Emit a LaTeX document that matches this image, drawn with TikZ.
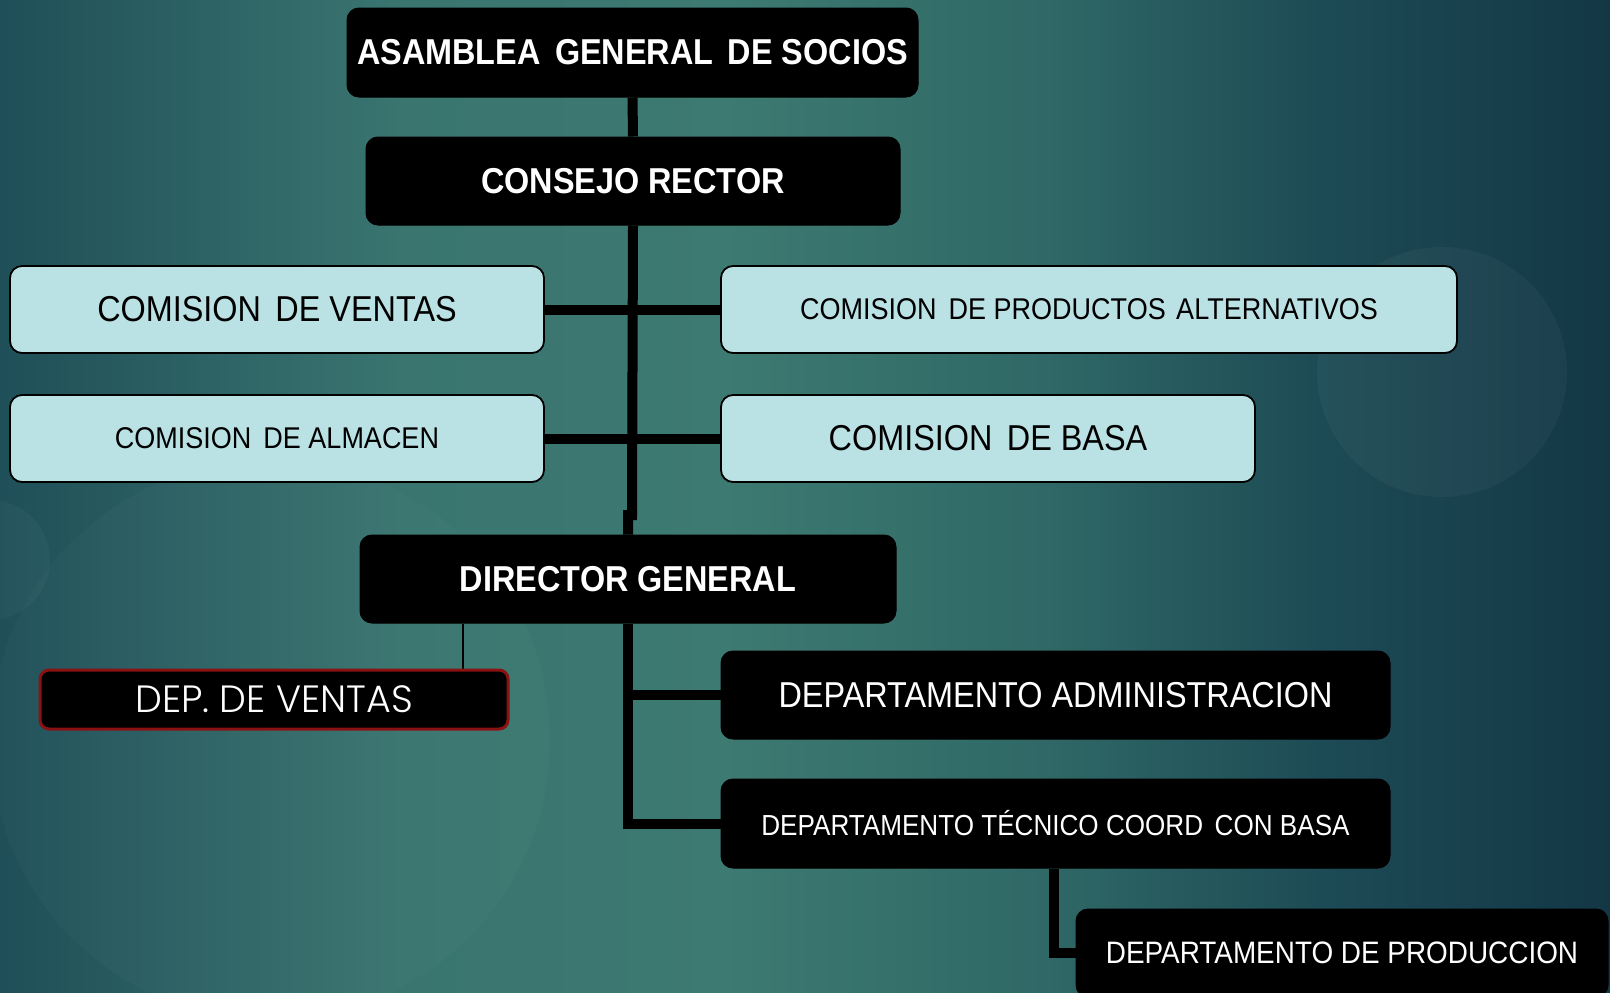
\documentclass[tikz,border=0pt]{standalone}
\usepackage{fontspec}
\setmainfont{Liberation Sans}[FakeStretch=0.9]
\IfFontExistsTF{Poppins Light}{\newfontfamily\gothic{Poppins Light}}{\newfontfamily\gothic{Poppins}}
\definecolor{boxcyan}{HTML}{BAE1E4}
\definecolor{bgA}{HTML}{1F4F58}
\definecolor{bgB}{HTML}{3A7570}
\definecolor{bgC}{HTML}{3D7A71}
\definecolor{bgD}{HTML}{2F6866}
\definecolor{bgE}{HTML}{1D4B55}
\definecolor{bgF}{HTML}{133745}
\definecolor{redborder}{HTML}{8A1212}
\pgfdeclarehorizontalshading{bgshade}{100bp}{color(0bp)=(bgA); color(25bp)=(bgA); color(37.5bp)=(bgB); color(47.5bp)=(bgC); color(57.5bp)=(bgD); color(66bp)=(bgE); color(75bp)=(bgF); color(100bp)=(bgF)}
\pgfdeclarelayer{bg}
\pgfdeclarelayer{conn}
\pgfsetlayers{bg,conn,main}
\tikzset{
  lightbox/.style={draw=black, line width=1.8pt, fill=boxcyan, rounded corners=12pt, text=black, inner sep=0pt},
  darkbox/.style={draw=black, line width=1pt, fill=black, rounded corners=12pt, text=white, inner sep=0pt},
  redbox/.style={draw=redborder, line width=3pt, fill=black, rounded corners=9pt, text=white, inner sep=0pt},
  conn/.style={draw=black, line width=10pt},
  thinconn/.style={draw=black, line width=1.5pt},
  fbig/.style={font=\fontsize{36}{40}\selectfont},
  fbold/.style={font=\fontsize{36}{40}\selectfont\bfseries},
  fsmall/.style={font=\fontsize{30}{34}\selectfont},
}
\begin{document}
\begin{tikzpicture}[x=1pt,y=-1pt]
\useasboundingbox (0,0) rectangle (1610,993);
\begin{pgfonlayer}{bg}
  \shade[shading=bgshade] (0,0) rectangle (1610,993);
  \begin{scope}
    \clip (0,0) rectangle (1610,993);
    \fill[white, opacity=0.035] (1442,372) circle (125);
    \fill[white, opacity=0.03] (-10,560) circle (60);
    \fill[white, opacity=0.02] (270,740) circle (280);
  \end{scope}
\end{pgfonlayer}

\node[darkbox, fbold, minimum width=571pt, minimum height=89pt] (asam) at (632.5,52.5) {ASAMBLEA\hspace{0.15em} GENERAL\hspace{0.15em} DE SOCIOS};
\node[darkbox, fbold, minimum width=534pt, minimum height=88pt] (consejo) at (633,181) {CONSEJO RECTOR};
\node[lightbox, fbig, minimum width=534pt, minimum height=87pt] (cventas) at (277,309.5) {COMISION\hspace{0.15em} DE VENTAS};
\node[lightbox, fsmall, minimum width=736pt, minimum height=87pt] (cprod) at (1089,309.5) {COMISION\hspace{0.15em} DE PRODUCTOS\hspace{0.1em} ALTERNATIVOS};
\node[lightbox, fsmall, minimum width=534pt, minimum height=87pt] (calm) at (277,438.5) {COMISION\hspace{0.15em} DE ALMACEN};
\node[lightbox, fbig, minimum width=534pt, minimum height=87pt] (cbasa) at (988,438.5) {COMISION\hspace{0.15em} DE BASA};
\node[darkbox, fbold, minimum width=536pt, minimum height=88pt] (director) at (628,579) {DIRECTOR GENERAL};
\node[redbox, font=\gothic\fontsize{38}{42}\selectfont, minimum width=468pt, minimum height=59pt] (dventas) at (274,699.5) {DEP. DE VENTAS};
\node[darkbox, fbig, minimum width=669pt, minimum height=88pt] (dadmin) at (1055.5,695) {DEPARTAMENTO ADMINISTRACION};
\node[darkbox, font=\fontsize{29}{33}\selectfont, minimum width=669pt, minimum height=89pt] (dtec) at (1055.5,823.5) {DEPARTAMENTO TÉCNICO COORD\hspace{0.15em} CON BASA};
\node[darkbox, font=\fontsize{31}{35}\selectfont, minimum width=532pt, minimum height=88pt] (dprod) at (1342,953) {DEPARTAMENTO DE PRODUCCION};

\begin{pgfonlayer}{conn}
  \coordinate (jog) at (632,515);
  \draw[conn] (asam.south) -- (consejo.north);
  \draw[conn] (consejo.south) -- (jog) -- ++(-4,0) |- (director.north);
  \draw[conn] (cventas.east) -- (cprod.west);
  \draw[conn] (calm.east) -- (cbasa.west);
  \draw[conn] (director.south) |- (dadmin.west);
  \draw[conn] (director.south) |- (dtec.west);
  \draw[conn] (dtec.south -| 1054,0) |- (dprod.west);
  \draw[thinconn] (dventas.north -| 463,0) -- (director.south -| 463,0);
\end{pgfonlayer}
\end{tikzpicture}
\end{document}
